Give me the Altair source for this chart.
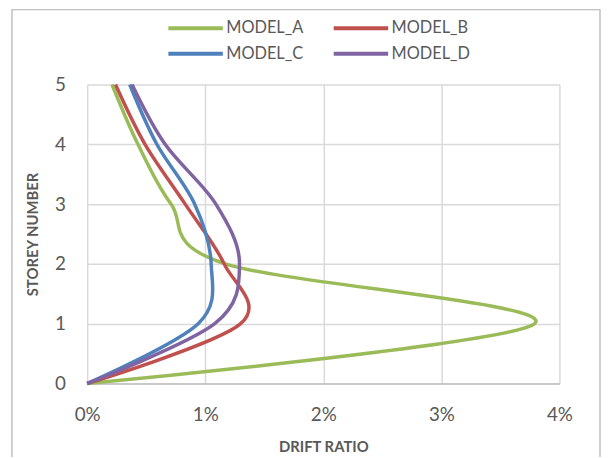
import altair as alt
import pandas as pd

storeys = [0, 1, 2, 3, 4, 5]
model_a = [0.0, 0.0379, 0.0117, 0.0071, 0.0043, 0.0021]
model_b = [0.0, 0.0130, 0.0116, 0.0083, 0.0049, 0.0024]
model_c = [0.0, 0.0094, 0.0105, 0.0091, 0.0059, 0.0036]
model_d = [0.0, 0.0108, 0.0129, 0.0109, 0.0066, 0.0038]
models = ["MODEL_A", "MODEL_B", "MODEL_C", "MODEL_D"]
colors = ["#9bbb59", "#c0504d", "#4f81bd", "#8064a2"]
x_ticks = [0, 0.01, 0.02, 0.03, 0.04]
y_ticks = [0, 1, 2, 3, 4, 5]

rows = []
for name, vals in zip(models, [model_a, model_b, model_c, model_d]):
    for s, v in zip(storeys, vals):
        rows.append({"model": name, "storey": s, "drift": v})
df = pd.DataFrame(rows)

# legend lays entries out column by column: order so rows read A B / C D
legend_order = [models[0], models[2], models[1], models[3]]
legend_colors = [colors[0], colors[2], colors[1], colors[3]]

FONT = "Lato"
GREY = "#595959"

lines = alt.Chart(df).mark_line(interpolate="cardinal", strokeWidth=3.5).encode(
    x=alt.X("drift:Q",
            scale=alt.Scale(domain=[0, 0.04], nice=False, zero=True),
            axis=alt.Axis(values=x_ticks, format=".0%", title="DRIFT RATIO",
                          labelFontSize=19, labelColor=GREY, labelFont=FONT,
                          labelPadding=22, labelFlush=False, ticks=False,
                          domainColor="#bfbfbf", domainWidth=1.5, grid=True,
                          gridColor="#d9d9d9", gridWidth=1.5, titleFont=FONT,
                          titleFontSize=15, titleFontWeight="bold",
                          titleColor=GREY, titlePadding=16)),
    y=alt.Y("storey:Q",
            scale=alt.Scale(domain=[0, 5], nice=False),
            axis=alt.Axis(values=y_ticks, title="STOREY NUMBER",
                          labelFontSize=19, labelColor=GREY, labelFont=FONT,
                          labelPadding=22, labelFlush=False, ticks=False,
                          domain=False, grid=True, gridColor="#d9d9d9",
                          gridWidth=1.5, titleFont=FONT, titleFontSize=15,
                          titleFontWeight="bold", titleColor=GREY,
                          titlePadding=14)),
    color=alt.Color("model:N",
                    scale=alt.Scale(domain=legend_order, range=legend_colors),
                    legend=alt.Legend(title=None, orient="none",
                                      legendX=96.5, legendY=-70, columns=2,
                                      symbolType="M-2.5,0H2.5", symbolSize=484,
                                      symbolStrokeWidth=4, labelFont=FONT,
                                      labelFontSize=16.5, labelColor=GREY,
                                      labelOffset=18, columnPadding=22,
                                      rowPadding=4)),
    order=alt.Order("storey:Q"),
)

frame = alt.Chart(pd.DataFrame({"k": [0]})).mark_rect(
    fill="transparent", stroke="#b0b0b0", strokeWidth=1.2
).encode(
    x=alt.value(-76), x2=alt.value(518), y=alt.value(-75.5), y2=alt.value(430)
)

chart = alt.layer(frame, lines).properties(
    width=477, height=302,
    autosize=alt.AutoSizeParams(type="none"),
    padding={"left": 80, "top": 75, "right": 42, "bottom": 72},
).configure_view(stroke=None)

chart.save("out.html", embed_options={"renderer": "svg", "actions": False})
